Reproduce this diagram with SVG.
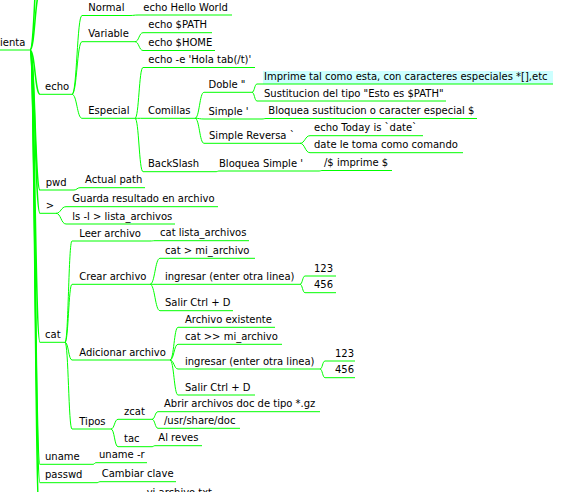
<svg xmlns="http://www.w3.org/2000/svg" width="565" height="492" viewBox="0 0 565 492">
<style>
.e{fill:none;stroke:#00ff00;stroke-width:1}
.r{stroke-width:1.5}
.u{stroke:#00ff00;stroke-width:1}
text{font-family:"DejaVu Sans","Verdana",sans-serif;font-size:10px;fill:#000}
</style>
<rect width="565" height="492" fill="#fff"/>
<g id="connectors">
<path class="e r" d="M30,50 C35,50 35,-8 40,-8"/>
<path class="e r" d="M30,50 C35,50 35,-60 40,-60"/>
<path class="e r" d="M30,50 C35,50 35,94.3 40,94.3"/>
<path class="e r" d="M30,50 C35,50 35,190 40,190"/>
<path class="e r" d="M30,50 C35,50 35,213.3 40,213.3"/>
<path class="e r" d="M30,50 C35,50 35,342.3 40,342.3"/>
<path class="e r" d="M30,50 C35,50 35,464.3 40,464.3"/>
<path class="e r" d="M30,50 C35,50 35,482.7 40,482.7"/>
<path class="e r" d="M30,50 C35,50 35,530 40,530"/>
<path class="e" d="M72,94.3 C77,94.3 77,15.5 82,15.5"/>
<path class="e" d="M72,94.3 C77,94.3 77,41.7 82,41.7"/>
<path class="e" d="M72,94.3 C77,94.3 77,118.3 82,118.3"/>
<path class="e" d="M130,15.5 C134,15.5 134,15 138,15"/>
<path class="e" d="M135,41.7 C139,41.7 139,32.7 143,32.7"/>
<path class="e" d="M135,41.7 C139,41.7 139,50.5 143,50.5"/>
<path class="e" d="M135,118.3 C139,118.3 139,67.5 143,67.5"/>
<path class="e" d="M135,118.3 C139,118.3 139,118.3 143,118.3"/>
<path class="e" d="M135,118.3 C139,118.3 139,171.7 143,171.7"/>
<path class="e" d="M195,118.3 C199.5,118.3 199.5,92.3 204,92.3"/>
<path class="e" d="M195,118.3 C199.5,118.3 199.5,119 204,119"/>
<path class="e" d="M195,118.3 C199.5,118.3 199.5,143.3 204,143.3"/>
<path class="e" d="M252,92.3 C254.5,92.3 254.5,84 257,84"/>
<path class="e" d="M252,92.3 C254.5,92.3 254.5,101 257,101"/>
<path class="e" d="M262,119 C264,119 264,118.5 266,118.5"/>
<path class="e" d="M300,143.3 C305,143.3 305,135.7 310,135.7"/>
<path class="e" d="M300,143.3 C305,143.3 305,152.7 310,152.7"/>
<path class="e" d="M216,171.7 C217.5,171.7 217.5,171 219,171"/>
<path class="e" d="M319,171 C320.5,171 320.5,170.5 322,170.5"/>
<path class="e" d="M74,190 C77,190 77,187.7 80,187.7"/>
<path class="e" d="M56,213.3 C61,213.3 61,206.7 66,206.7"/>
<path class="e" d="M56,213.3 C61,213.3 61,224 66,224"/>
<path class="e" d="M65,342.3 C68.5,342.3 68.5,241 72,241"/>
<path class="e" d="M65,342.3 C68.5,342.3 68.5,284.3 72,284.3"/>
<path class="e" d="M65,342.3 C68.5,342.3 68.5,360 72,360"/>
<path class="e" d="M65,342.3 C68.5,342.3 68.5,429 72,429"/>
<path class="e" d="M150,241 C152.5,241 152.5,240.7 155,240.7"/>
<path class="e" d="M150,284.3 C155,284.3 155,258.3 160,258.3"/>
<path class="e" d="M150,284.3 C155,284.3 155,284.3 160,284.3"/>
<path class="e" d="M150,284.3 C155,284.3 155,310.7 160,310.7"/>
<path class="e" d="M300,284.3 C302.5,284.3 302.5,276 305,276"/>
<path class="e" d="M300,284.3 C302.5,284.3 302.5,292.7 305,292.7"/>
<path class="e" d="M170,360 C174,360 174,327.3 178,327.3"/>
<path class="e" d="M170,360 C174,360 174,344.3 178,344.3"/>
<path class="e" d="M170,360 C174,360 174,369 178,369"/>
<path class="e" d="M170,360 C174,360 174,395 178,395"/>
<path class="e" d="M320,369 C322.5,369 322.5,361 325,361"/>
<path class="e" d="M320,369 C322.5,369 322.5,377.7 325,377.7"/>
<path class="e" d="M111,429 C114.5,429 114.5,419.3 118,419.3"/>
<path class="e" d="M111,429 C114.5,429 114.5,446.7 118,446.7"/>
<path class="e" d="M152,419.3 C155,419.3 155,411.7 158,411.7"/>
<path class="e" d="M152,419.3 C155,419.3 155,428.3 158,428.3"/>
<path class="e" d="M152,446.7 C153.5,446.7 153.5,445.7 155,445.7"/>
<path class="e" d="M93,464.3 C94.5,464.3 94.5,462.7 96,462.7"/>
<path class="e" d="M97,482.7 C98.5,482.7 98.5,481.7 100,481.7"/>
</g>
<g id="n-root"><line class="u" x1="0" y1="50" x2="30" y2="50"/><text x="0" y="45.5">ienta</text></g>
<g id="n-echo"><line class="u" x1="40" y1="94.3" x2="72" y2="94.3"/><text x="45" y="89.8">echo</text></g>
<g id="n-normal"><line class="u" x1="82" y1="15.5" x2="130" y2="15.5"/><text x="88.3" y="11">Normal</text></g>
<g id="n-echo-hello"><line class="u" x1="138" y1="15" x2="232" y2="15"/><text x="143.3" y="10.5">echo Hello World</text></g>
<g id="n-variable"><line class="u" x1="82" y1="41.7" x2="135" y2="41.7"/><text x="88.3" y="37.2">Variable</text></g>
<g id="n-echo-path"><line class="u" x1="143" y1="32.7" x2="212" y2="32.7"/><text x="148.3" y="28.2">echo $PATH</text></g>
<g id="n-echo-home"><line class="u" x1="143" y1="50.5" x2="215" y2="50.5"/><text x="148.3" y="46">echo $HOME</text></g>
<g id="n-especial"><line class="u" x1="82" y1="118.3" x2="135" y2="118.3"/><text x="88.3" y="113.8">Especial</text></g>
<g id="n-echo-e"><line class="u" x1="143" y1="67.5" x2="255" y2="67.5"/><text x="148.3" y="63">echo -e 'Hola tab(/t)'</text></g>
<g id="n-comillas"><line class="u" x1="143" y1="118.3" x2="195" y2="118.3"/><text x="148" y="113.8">Comillas</text></g>
<g id="n-doble"><line class="u" x1="204" y1="92.3" x2="252" y2="92.3"/><text x="208.5" y="87.8">Doble "</text></g>
<g id="n-imprime"><rect x="263" y="71" width="290" height="13" fill="#ccffff"/><line class="u" x1="257" y1="84" x2="553" y2="84"/><text x="264" y="80">Imprime tal como esta, con caracteres especiales *[],etc</text></g>
<g id="n-sustitucion"><line class="u" x1="257" y1="101" x2="446" y2="101"/><text x="264" y="96.5">Sustitucion del tipo "Esto es $PATH"</text></g>
<g id="n-simple"><line class="u" x1="204" y1="119" x2="262" y2="119"/><text x="208.5" y="114.5">Simple '</text></g>
<g id="n-bloquea-sust"><line class="u" x1="266" y1="118.5" x2="477" y2="118.5"/><text x="268.3" y="114">Bloquea sustitucion o caracter especial $</text></g>
<g id="n-simple-rev"><line class="u" x1="204" y1="143.3" x2="300" y2="143.3"/><text x="209" y="138.8">Simple Reversa `</text></g>
<g id="n-echo-today"><line class="u" x1="310" y1="135.7" x2="423" y2="135.7"/><text x="314" y="131.2">echo Today is `date`</text></g>
<g id="n-date-toma"><line class="u" x1="310" y1="152.7" x2="463" y2="152.7"/><text x="314" y="148.2">date le toma como comando</text></g>
<g id="n-backslash"><line class="u" x1="143" y1="171.7" x2="216" y2="171.7"/><text x="148" y="167.2">BackSlash</text></g>
<g id="n-bloquea-simple"><line class="u" x1="219" y1="171" x2="319" y2="171"/><text x="219" y="166.5">Bloquea Simple '</text></g>
<g id="n-imprime-dollar"><line class="u" x1="322" y1="170.5" x2="392" y2="170.5"/><text x="324" y="166">/$ imprime $</text></g>
<g id="n-pwd"><line class="u" x1="40" y1="190" x2="74" y2="190"/><text x="45.7" y="185.5">pwd</text></g>
<g id="n-actual-path"><line class="u" x1="80" y1="187.7" x2="145" y2="187.7"/><text x="85" y="183.2">Actual path</text></g>
<g id="n-gt"><line class="u" x1="40" y1="213.3" x2="56" y2="213.3"/><text x="45.7" y="208.8">&gt;</text></g>
<g id="n-guarda"><line class="u" x1="66" y1="206.7" x2="218" y2="206.7"/><text x="72.3" y="202.2">Guarda resultado en archivo</text></g>
<g id="n-ls"><line class="u" x1="66" y1="224" x2="175" y2="224"/><text x="72.3" y="219.5">ls -l &gt; lista_archivos</text></g>
<g id="n-cat"><line class="u" x1="40" y1="342.3" x2="65" y2="342.3"/><text x="45" y="337.8">cat</text></g>
<g id="n-leer"><line class="u" x1="72" y1="241" x2="150" y2="241"/><text x="79.3" y="236.5">Leer archivo</text></g>
<g id="n-cat-lista"><line class="u" x1="155" y1="240.7" x2="249" y2="240.7"/><text x="160" y="236.2">cat lista_archivos</text></g>
<g id="n-crear"><line class="u" x1="72" y1="284.3" x2="150" y2="284.3"/><text x="79.3" y="279.8">Crear archivo</text></g>
<g id="n-cat-mi"><line class="u" x1="160" y1="258.3" x2="255" y2="258.3"/><text x="165" y="253.8">cat &gt; mi_archivo</text></g>
<g id="n-ingresar1"><line class="u" x1="160" y1="284.3" x2="300" y2="284.3"/><text x="165" y="279.8">ingresar (enter otra linea)</text></g>
<g id="n-123a"><line class="u" x1="305" y1="276" x2="336" y2="276"/><text x="314" y="271.5">123</text></g>
<g id="n-456a"><line class="u" x1="305" y1="292.7" x2="336" y2="292.7"/><text x="314" y="288.2">456</text></g>
<g id="n-salir1"><line class="u" x1="160" y1="310.7" x2="233" y2="310.7"/><text x="165" y="306.2">Salir Ctrl + D</text></g>
<g id="n-adicionar"><line class="u" x1="72" y1="360" x2="170" y2="360"/><text x="79.3" y="355.5">Adicionar archivo</text></g>
<g id="n-archivo-ex"><line class="u" x1="178" y1="327.3" x2="275" y2="327.3"/><text x="185" y="322.8">Archivo existente</text></g>
<g id="n-cat-app"><line class="u" x1="178" y1="344.3" x2="282" y2="344.3"/><text x="185" y="339.8">cat &gt;&gt; mi_archivo</text></g>
<g id="n-ingresar2"><line class="u" x1="178" y1="369" x2="320" y2="369"/><text x="185" y="364.5">ingresar (enter otra linea)</text></g>
<g id="n-123b"><line class="u" x1="325" y1="361" x2="355" y2="361"/><text x="335" y="356.5">123</text></g>
<g id="n-456b"><line class="u" x1="325" y1="377.7" x2="355" y2="377.7"/><text x="335" y="373.2">456</text></g>
<g id="n-salir2"><line class="u" x1="178" y1="395" x2="255" y2="395"/><text x="185" y="390.5">Salir Ctrl + D</text></g>
<g id="n-tipos"><line class="u" x1="72" y1="429" x2="111" y2="429"/><text x="79.3" y="424.5">Tipos</text></g>
<g id="n-zcat"><line class="u" x1="118" y1="419.3" x2="152" y2="419.3"/><text x="124" y="414.8">zcat</text></g>
<g id="n-abrir"><line class="u" x1="158" y1="411.7" x2="320" y2="411.7"/><text x="164" y="407.2">Abrir archivos doc de tipo *.gz</text></g>
<g id="n-usr"><line class="u" x1="158" y1="428.3" x2="240" y2="428.3"/><text x="164" y="423.8">/usr/share/doc</text></g>
<g id="n-tac"><line class="u" x1="118" y1="446.7" x2="152" y2="446.7"/><text x="124" y="442.2">tac</text></g>
<g id="n-al-reves"><line class="u" x1="155" y1="445.7" x2="202" y2="445.7"/><text x="158.3" y="441.2">Al reves</text></g>
<g id="n-uname"><line class="u" x1="40" y1="464.3" x2="93" y2="464.3"/><text x="45" y="459.8">uname</text></g>
<g id="n-uname-r"><line class="u" x1="96" y1="462.7" x2="147" y2="462.7"/><text x="99" y="458.2">uname -r</text></g>
<g id="n-passwd"><line class="u" x1="40" y1="482.7" x2="97" y2="482.7"/><text x="45" y="478.2">passwd</text></g>
<g id="n-cambiar"><line class="u" x1="100" y1="481.7" x2="176" y2="481.7"/><text x="101.7" y="477.2">Cambiar clave</text></g>
<g id="n-vi"><text x="146.7" y="496">vi archivo.txt</text></g>
</svg>
